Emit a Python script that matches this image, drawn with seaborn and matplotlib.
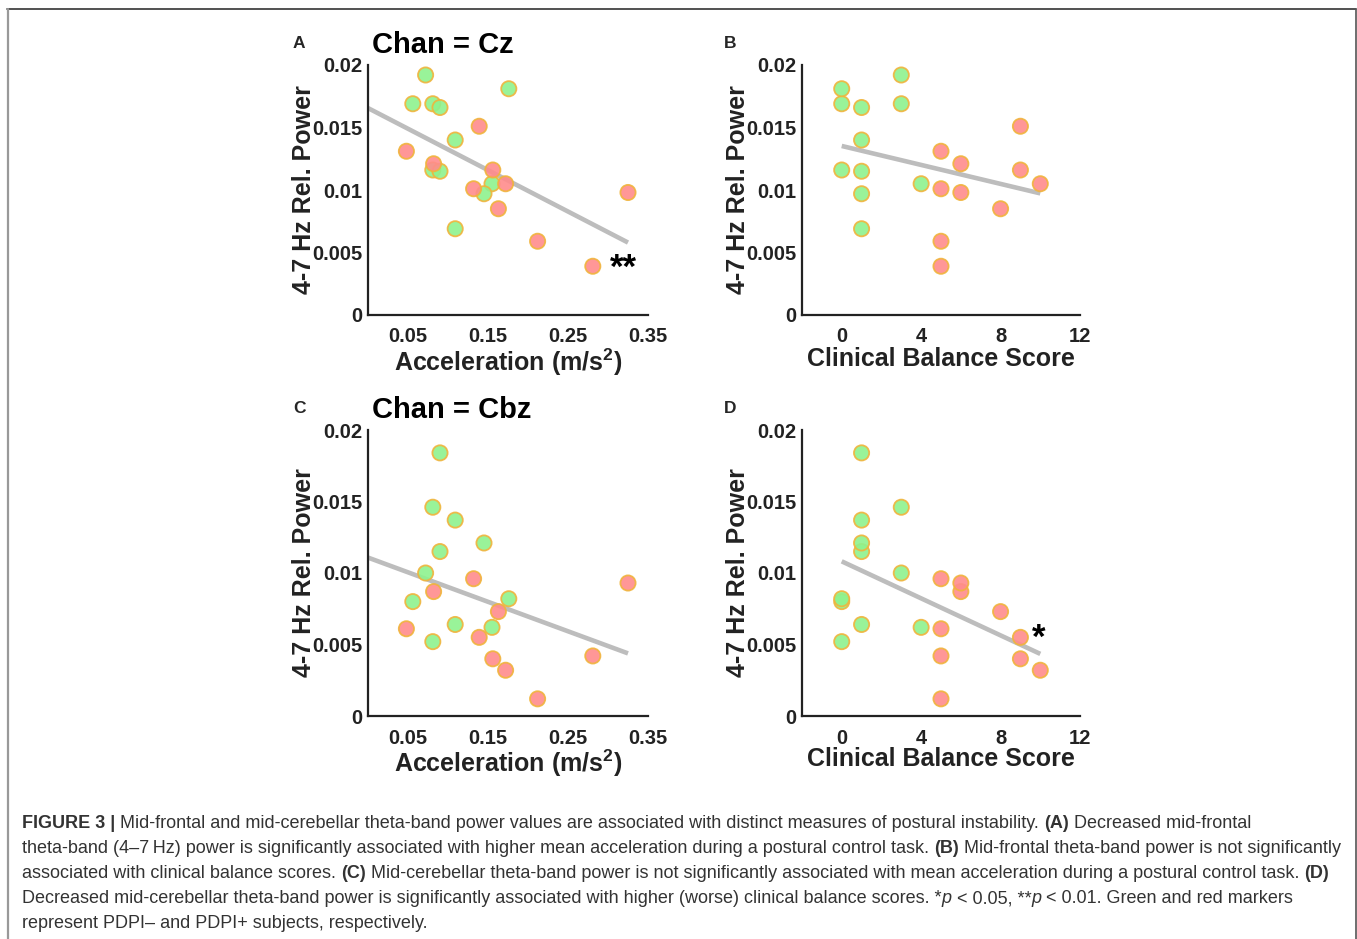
import numpy as np
import pandas as pd
import matplotlib
matplotlib.use("Agg")
import matplotlib.pyplot as plt
from matplotlib.lines import Line2D
import seaborn as sns

# ---------------- data ----------------
group = ["PDPI-"] * 11 + ["PDPI+"] * 10
acceleration = [0.072, 0.056, 0.081, 0.090, 0.176, 0.109, 0.081, 0.090, 0.155, 0.145, 0.109,
                0.048, 0.082, 0.139, 0.156, 0.132, 0.172, 0.163, 0.212, 0.281, 0.325]
balance_score = [3, 0, 3, 1, 0, 1, 0, 1, 4, 1, 1,
                 5, 6, 9, 9, 5, 10, 8, 5, 5, 6]
cz_power = [0.0192, 0.0169, 0.0169, 0.0166, 0.0181, 0.0140, 0.0116, 0.0115, 0.0105, 0.0097, 0.0069,
            0.0131, 0.0121, 0.0151, 0.0116, 0.0101, 0.0105, 0.0085, 0.0059, 0.0039, 0.0098]
cbz_power = [0.0100, 0.0080, 0.0146, 0.0184, 0.0082, 0.0137, 0.0052, 0.0115, 0.0062, 0.0121, 0.0064,
             0.0061, 0.0087, 0.0055, 0.0040, 0.0096, 0.0032, 0.0073, 0.0012, 0.0042, 0.0093]

y_ticks = [0, 0.005, 0.01, 0.015, 0.02]
y_ticklabels = ["0", "0.005", "0.01", "0.015", "0.02"]
acc_ticks = [0.05, 0.15, 0.25, 0.35]
acc_ticklabels = ["0.05", "0.15", "0.25", "0.35"]
bal_ticks = [0, 4, 8, 12]
bal_ticklabels = ["0", "4", "8", "12"]

df = pd.DataFrame({"group": group, "acc": acceleration, "bal": balance_score,
                   "cz": cz_power, "cbz": cbz_power})

# ---------------- style ----------------
sns.set_style("white")
FONT = ["Liberation Sans", "DejaVu Sans"]
plt.rcParams["font.family"] = FONT
plt.rcParams["mathtext.fontset"] = "custom"
plt.rcParams["mathtext.rm"] = "Liberation Sans:bold"
plt.rcParams["mathtext.bf"] = "Liberation Sans:bold"

W, H = 1357, 939
fig = plt.figure(figsize=(W / 100, H / 100), dpi=100)
fig.patch.set_facecolor("white")

palette = {"PDPI-": "#8ef28e", "PDPI+": "#ff8c8c"}
EDGE = "#f0b43c"


def axes_px(left, top, right, bottom):
    return fig.add_axes([left / W, 1 - bottom / H, (right - left) / W, (bottom - top) / H])


panels = [
    # letter, axes box, x column, y column, xlim, ticks, ticklabels, xlabel, title, star
    ("A", (368, 65, 648, 315), "acc", "cz", (0, 0.35), acc_ticks, acc_ticklabels,
     r"Acceleration (m/s$^{\mathbf{2}}$)", "Chan = Cz", ("**", 0.303, 0.0037)),
    ("B", (802, 65, 1080, 315), "bal", "cz", (-2, 12), bal_ticks, bal_ticklabels,
     "Clinical Balance Score", None, None),
    ("C", (368, 430, 648, 716), "acc", "cbz", (0, 0.35), acc_ticks, acc_ticklabels,
     r"Acceleration (m/s$^{\mathbf{2}}$)", "Chan = Cbz", None),
    ("D", (802, 430, 1080, 716), "bal", "cbz", (-2, 12), bal_ticks, bal_ticklabels,
     "Clinical Balance Score", None, ("*", 9.6, 0.0054)),
]

for letter, box, xc, yc, xlim, xt, xtl, xlabel, title, star in panels:
    left, top, right, bottom = box
    ax = axes_px(left, top, right, bottom)
    # regression line (least squares)
    slope, intercept = np.polyfit(df[xc], df[yc], 1)
    xs = np.array([0.0, df[xc].max()])
    ax.plot(xs, intercept + slope * xs, color="#bdbdbd", lw=3.3, zorder=2,
            solid_capstyle="butt")
    sns.scatterplot(data=df, x=xc, y=yc, hue="group", palette=palette, s=120,
                    edgecolor=EDGE, linewidth=1.3, alpha=0.9, legend=False,
                    ax=ax, zorder=3)
    ax.set_xlim(*xlim)
    ax.set_ylim(0, 0.02)
    ax.set_xticks(xt)
    ax.set_xticklabels(xtl, fontsize=14.5, fontweight="bold", color="#222222")
    ax.set_yticks(y_ticks)
    ax.set_yticklabels(y_ticklabels, fontsize=14.5, fontweight="bold", color="#222222")
    ax.tick_params(direction="in", length=4, width=1.5, color="#222222")
    ax.tick_params(axis="x", pad=9)
    ax.tick_params(axis="y", pad=4)
    for s in ["top", "right"]:
        ax.spines[s].set_visible(False)
    for s in ["left", "bottom"]:
        ax.spines[s].set_linewidth(1.6)
        ax.spines[s].set_color("#222222")
    ax.set_facecolor("none")
    ax.set_xlabel(xlabel, fontsize=18, fontweight="bold", color="#222222", labelpad=0)
    ax.set_ylabel("4-7 Hz Rel. Power", fontsize=18, fontweight="bold", color="#222222",
                  labelpad=-3)
    if star is not None:
        ax.text(star[1], star[2], star[0], fontsize=25, fontweight="bold",
                ha="left", va="center", color="black")
    # panel letter
    fig.text(293 / W if left < 700 else 724 / W, 1 - (top - 17) / H, letter,
             fontsize=12.5, fontweight="bold", ha="left", va="baseline")
    if title:
        fig.text(372 / W, 1 - (top - 12) / H, title, fontsize=21, fontweight="bold",
                 ha="left", va="baseline", color="black")

# ---------------- border ----------------
fig.add_artist(Line2D([7 / W, 1356 / W], [1 - 9 / H, 1 - 9 / H], transform=fig.transFigure,
                      color="#333333", lw=1.2))
fig.add_artist(Line2D([7.5 / W, 7.5 / W], [1 - 9 / H, 0], transform=fig.transFigure,
                      color="#999999", lw=1.6))
fig.add_artist(Line2D([1355.5 / W, 1355.5 / W], [1 - 9 / H, 0], transform=fig.transFigure,
                      color="#555555", lw=1.2))

# ---------------- caption ----------------
renderer = fig.canvas.get_renderer()
CAP = 13.0
CAPCOL = "#333333"


def text_w(s, **kw):
    t = fig.text(0, 0, s, fontsize=CAP, **kw)
    w = t.get_window_extent(renderer).width
    t.remove()
    return w


SP = text_w("a a") - text_w("aa")


def rich_line(x0, y0, segs):
    x = x0
    for text, weight, style in segs:
        lead = len(text) - len(text.lstrip(" "))
        x += lead * SP
        core = text.strip(" ")
        if core:
            t = fig.text(x / W, 1 - y0 / H, core, fontsize=CAP, fontweight=weight,
                         fontstyle=style, ha="left", va="baseline", color=CAPCOL)
            x += t.get_window_extent(renderer).width
        trail = len(text) - len(text.rstrip(" "))
        x += trail * SP


N, B, I = "normal", "bold", "italic"
lines = [
    [("FIGURE 3 |", B, N), (" Mid-frontal and mid-cerebellar theta-band power values are associated with distinct measures of postural instability. ", N, N),
     ("(A)", B, N), (" Decreased mid-frontal", N, N)],
    [("theta-band (4\u20137\u2009Hz) power is significantly associated with higher mean acceleration during a postural control task. ", N, N),
     ("(B)", B, N), (" Mid-frontal theta-band power is not significantly", N, N)],
    [("associated with clinical balance scores. ", N, N), ("(C)", B, N),
     (" Mid-cerebellar theta-band power is not significantly associated with mean acceleration during a postural control task. ", N, N),
     ("(D)", B, N)],
    [("Decreased mid-cerebellar theta-band power is significantly associated with higher (worse) clinical balance scores. *", N, N),
     ("p", N, I), (" < 0.05, **", N, N), ("p", N, I), (" < 0.01. Green and red markers", N, N)],
    [("represent PDPI\u2013 and PDPI+ subjects, respectively.", N, N)],
]
for i, segs in enumerate(lines):
    rich_line(22, 828 + 25 * i, segs)

fig.savefig("out.png", dpi=100, facecolor="white")
